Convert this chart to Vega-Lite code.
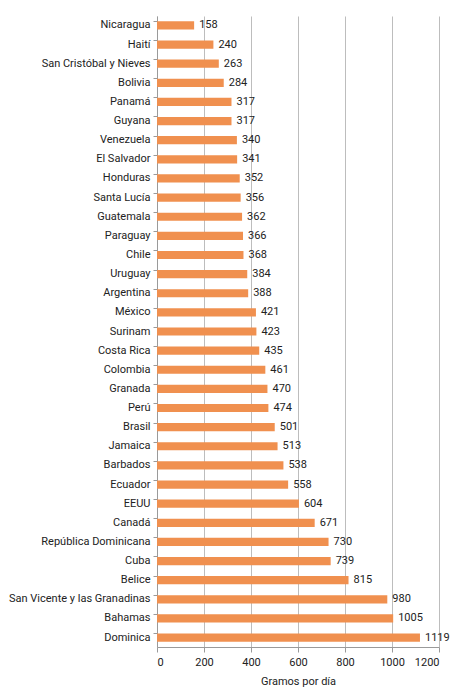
{
  "$schema": "https://vega.github.io/schema/vega-lite/v6.json",
  "width": 282,
  "height": 631,
  "autosize": "none",
  "padding": {"left": 157, "top": 16, "right": 20, "bottom": 53},
  "background": "white",
  "config": {
    "view": {"stroke": null},
    "font": "Roboto",
    "axis": {"labelFont": "Roboto", "titleFont": "Roboto", "labelColor": "#222", "titleColor": "#222"}
  },
  "data": {
    "values": [
      {"pais": "Nicaragua", "gramos": 158},
      {"pais": "Haití", "gramos": 240},
      {"pais": "San Cristóbal y Nieves", "gramos": 263},
      {"pais": "Bolivia", "gramos": 284},
      {"pais": "Panamá", "gramos": 317},
      {"pais": "Guyana", "gramos": 317},
      {"pais": "Venezuela", "gramos": 340},
      {"pais": "El Salvador", "gramos": 341},
      {"pais": "Honduras", "gramos": 352},
      {"pais": "Santa Lucía", "gramos": 356},
      {"pais": "Guatemala", "gramos": 362},
      {"pais": "Paraguay", "gramos": 366},
      {"pais": "Chile", "gramos": 368},
      {"pais": "Uruguay", "gramos": 384},
      {"pais": "Argentina", "gramos": 388},
      {"pais": "México", "gramos": 421},
      {"pais": "Surinam", "gramos": 423},
      {"pais": "Costa Rica", "gramos": 435},
      {"pais": "Colombia", "gramos": 461},
      {"pais": "Granada", "gramos": 470},
      {"pais": "Perú", "gramos": 474},
      {"pais": "Brasil", "gramos": 501},
      {"pais": "Jamaica", "gramos": 513},
      {"pais": "Barbados", "gramos": 538},
      {"pais": "Ecuador", "gramos": 558},
      {"pais": "EEUU", "gramos": 604},
      {"pais": "Canadá", "gramos": 671},
      {"pais": "República Dominicana", "gramos": 730},
      {"pais": "Cuba", "gramos": 739},
      {"pais": "Belice", "gramos": 815},
      {"pais": "San Vicente y las Granadinas", "gramos": 980},
      {"pais": "Bahamas", "gramos": 1005},
      {"pais": "Dominica", "gramos": 1119}
    ]
  },
  "encoding": {
    "y": {
      "field": "pais",
      "type": "nominal",
      "sort": null,
      "scale": {"paddingInner": 0.57, "paddingOuter": 0.28},
      "axis": {
        "title": null,
        "labelFontSize": 11,
        "labelPadding": 3,
        "bandPosition": 0,
        "tickSize": 4,
        "tickColor": "#9a9a9a",
        "domainColor": "#9a9a9a"
      }
    },
    "x": {
      "field": "gramos",
      "type": "quantitative",
      "scale": {"domain": [0, 1200]},
      "axis": {
        "title": "Gramos por día",
        "titleFontSize": 11,
        "titleFontWeight": "normal",
        "titlePadding": 8,
        "labelFontSize": 11,
        "labelPadding": 4,
        "format": "d",
        "values": [0, 200, 400, 600, 800, 1000, 1200],
        "tickSize": 5,
        "tickColor": "#9a9a9a",
        "domainColor": "#9a9a9a",
        "gridColor": "#bdbdbd",
        "gridWidth": 1
      }
    }
  },
  "layer": [
    {"mark": {"type": "bar", "color": "#f0904f"}},
    {
      "mark": {"type": "text", "align": "left", "baseline": "middle", "dx": 5, "fontSize": 11, "color": "#222"},
      "encoding": {"text": {"field": "gramos", "type": "quantitative", "format": "d"}}
    }
  ]
}
